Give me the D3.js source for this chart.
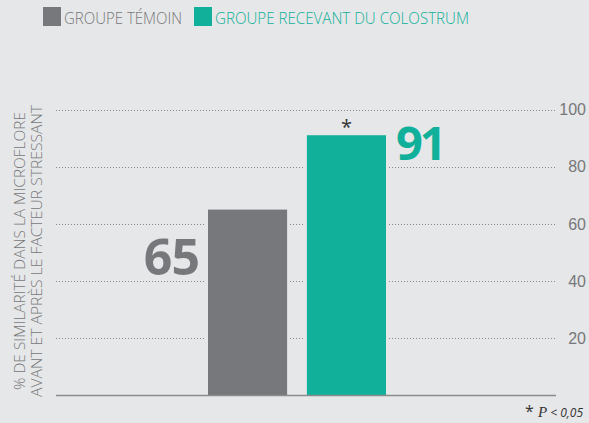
<!DOCTYPE html>
<html lang="fr">
<head>
<meta charset="UTF-8">
<title>Similarité de la microflore</title>
<script src="https://d3js.org/d3.v7.min.js"></script>
<style>
    body { margin: 0; background: #e6e7e8; }
    svg { display: block; font-family: "Open Sans", "Noto Sans", sans-serif; }
    .grid line { stroke: #85868a; stroke-width: 1; stroke-dasharray: 1,2; }
    .axis-y text { fill: #77787b; font-size: 16px; font-weight: 300; }
    .axis-y path, .axis-y line { display: none; }
</style>
</head>
<body>
<svg width="589" height="423"></svg>
<script>
    // data
    const groups = ["GROUPE TÉMOIN", "GROUPE RECEVANT DU COLOSTRUM"];
    const values = [65, 91];
    const colors = ["#77787b", "#10b09a"];
    const tickValues = [20, 40, 60, 80, 100];

    const svg = d3.select("svg");
    const bg = "#e6e7e8";

    const plotLeft = 56, plotRight = 556, plotBottom = 395.5, plotTop = 109.5;

    const y = d3.scaleLinear().domain([0, 100]).range([plotBottom, plotTop]);
    const x = d3.scaleBand().domain(groups).range([208, 386]).paddingInner(0.2).paddingOuter(0);

    // dotted gridlines
    svg.append("g").attr("class", "grid")
        .selectAll("line")
        .data(tickValues)
        .join("line")
        .attr("x1", plotLeft).attr("x2", plotRight)
        .attr("y1", d => Math.round(y(d)) + 0.5).attr("y2", d => Math.round(y(d)) + 0.5);

    // gap around bars
    svg.selectAll(".gap")
        .data(groups)
        .join("rect")
        .attr("class", "gap")
        .attr("x", d => x(d) - 2.5)
        .attr("width", x.bandwidth() + 5)
        .attr("y", (d, i) => y(values[i]) - 2)
        .attr("height", (d, i) => plotBottom - y(values[i]) + 2)
        .attr("fill", bg);

    // bars
    svg.selectAll(".bar")
        .data(groups)
        .join("rect")
        .attr("class", "bar")
        .attr("x", d => x(d))
        .attr("width", x.bandwidth())
        .attr("y", (d, i) => y(values[i]))
        .attr("height", (d, i) => plotBottom - y(values[i]))
        .attr("fill", (d, i) => colors[i]);

    // baseline
    svg.append("line")
        .attr("x1", plotLeft).attr("x2", plotRight)
        .attr("y1", plotBottom).attr("y2", plotBottom)
        .attr("stroke", "#8a8b8d").attr("stroke-width", 1.6);

    // right axis labels
    svg.append("g")
        .attr("class", "axis-y")
        .attr("transform", `translate(${plotRight},0)`)
        .call(d3.axisRight(y).tickValues(tickValues).tickSize(0).tickPadding(0))
        .selectAll("text")
        .attr("x", 30)
        .attr("text-anchor", "end");

    // value labels
    svg.append("text")
        .attr("x", x(groups[0]) - 9)
        .attr("y", 275)
        .attr("text-anchor", "end")
        .attr("fill", colors[0])
        .style("font-size", "50px").style("font-weight", 700)
        .style("letter-spacing", "-1px")
        .text(values[0]);

    svg.append("text")
        .attr("x", x(groups[1]) + x.bandwidth() + 10)
        .attr("y", 160)
        .attr("fill", colors[1])
        .style("font-size", "47px").style("font-weight", 700)
        .style("letter-spacing", "-3px")
        .text(values[1]);

    // significance star
    svg.append("text")
        .attr("x", x(groups[1]) + x.bandwidth() / 2)
        .attr("y", 134)
        .attr("text-anchor", "middle")
        .attr("fill", "#333")
        .style("font-size", "20px")
        .text("*");

    // y axis title
    const title = svg.append("text")
        .attr("transform", "translate(0,251) rotate(-90)")
        .attr("text-anchor", "middle")
        .attr("fill", "#77787b")
        .style("font-size", "15px").style("font-weight", 300);
    title.append("tspan").attr("x", 0).attr("y", 25)
        .attr("textLength", 278).attr("lengthAdjust", "spacingAndGlyphs")
        .text("% DE SIMILARITÉ DANS LA MICROFLORE");
    title.append("tspan").attr("x", 0).attr("y", 41.5)
        .attr("textLength", 292).attr("lengthAdjust", "spacingAndGlyphs")
        .text("AVANT ET APRÈS LE FACTEUR STRESSANT");

    // legend
    const legendX = [43, 194];
    const legendW = [118, 254];
    groups.forEach((g, i) => {
        svg.append("rect")
            .attr("x", legendX[i]).attr("y", 7)
            .attr("width", 18).attr("height", 19)
            .attr("fill", colors[i]);
        svg.append("text")
            .attr("x", legendX[i] + 21).attr("y", 23.5)
            .attr("fill", colors[i])
            .attr("textLength", legendW[i]).attr("lengthAdjust", "spacingAndGlyphs")
            .style("font-size", "17px").style("font-weight", 300)
            .text(g);
    });

    // footnote
    const foot = svg.append("text")
        .attr("x", 583).attr("y", 417)
        .attr("text-anchor", "end")
        .attr("fill", "#333");
    foot.append("tspan").style("font-size", "16px").text("* ");
    foot.append("tspan").style("font-size", "15px").style("font-style", "italic")
        .style("font-family", "'Liberation Serif', serif").text("P");
    foot.append("tspan").style("font-size", "12px").style("font-style", "italic").text(" < 0,05");
</script>
</body>
</html>
